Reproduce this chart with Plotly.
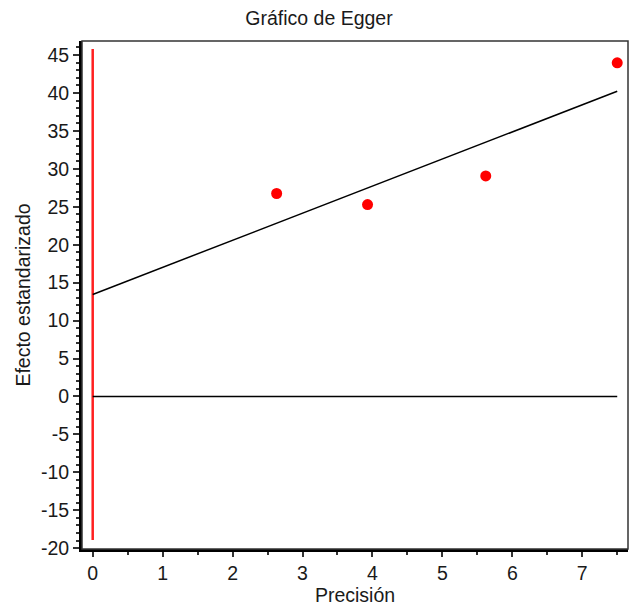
import plotly.graph_objects as go

# Egger regression data: precision (1/SE) vs standardized effect (effect/SE)
precision = [2.63, 3.93, 5.62, 7.50]
std_effect = [26.75, 25.30, 29.07, 43.98]

# Fitted Egger regression line: std_effect = intercept + slope * precision
egger_intercept = 13.45
egger_slope = 3.57

# Reference lines
ref_vertical_y = [-18.9, 45.8]   # red line at precision = 0
ref_zero_x = [0.0, 7.5]          # horizontal line at effect = 0

y_ticks = list(range(-20, 50, 5))
x_ticks = list(range(0, 8))

font_family = "Liberation Sans, Arial, sans-serif"
font_size = 19.5
text_color = "#1a1a1a"

fig = go.Figure()

# red vertical line at x = 0
fig.add_trace(go.Scatter(
    x=[0, 0], y=ref_vertical_y, mode="lines",
    line=dict(color="#ff2020", width=2.5), hoverinfo="skip", showlegend=False))

# zero line
fig.add_trace(go.Scatter(
    x=ref_zero_x, y=[0, 0], mode="lines",
    line=dict(color="black", width=1.5), hoverinfo="skip", showlegend=False))

# regression line
x_line = [0.0, max(precision)]
y_line = [egger_intercept + egger_slope * v for v in x_line]
fig.add_trace(go.Scatter(
    x=x_line, y=y_line, mode="lines",
    line=dict(color="black", width=1.5), hoverinfo="skip", showlegend=False))

# studies
fig.add_trace(go.Scatter(
    x=precision, y=std_effect, mode="markers",
    marker=dict(color="#ff0000", size=11, symbol="circle", line=dict(width=0)),
    showlegend=False))

# thin border on top and right
fig.add_shape(type="rect", xref="paper", yref="paper", x0=0, y0=0, x1=1, y1=1,
              line=dict(color="#333333", width=1.5), layer="above")

axis_font = dict(family=font_family, size=font_size, color=text_color)

fig.update_layout(
    width=638, height=611,
    margin=dict(l=82, r=10, t=41, b=62),
    paper_bgcolor="white", plot_bgcolor="white",
    font=axis_font,
    title=dict(text="Gráfico de Egger", x=0.5, xref="container", xanchor="center",
               y=0.970, yref="container", yanchor="middle", font=axis_font),
    showlegend=False,
)

fig.update_xaxes(
    range=[-0.153, 7.654], tickvals=x_ticks, ticktext=[str(v) for v in x_ticks],
    tickfont=axis_font,
    ticks="outside", ticklen=5, tickwidth=1.5, tickcolor="#333333",
    minor=dict(dtick=0.5, ticks="outside", ticklen=3, tickwidth=1.5, tickcolor="#333333", showgrid=False),
    showline=True, linecolor="black", linewidth=3, showgrid=False, zeroline=False,
    title=dict(text="Precisión", standoff=4, font=axis_font),
)

fig.update_yaxes(
    range=[-20.1, 46.85], tickvals=y_ticks, ticktext=[str(v) for v in y_ticks],
    tickfont=axis_font,
    ticks="outside", ticklen=6, tickwidth=1.5, tickcolor="#333333",
    minor=dict(dtick=1, ticks="outside", ticklen=3, tickwidth=1.5, tickcolor="#333333", showgrid=False),
    showline=True, linecolor="black", linewidth=3, showgrid=False, zeroline=False,
    title=dict(text="Efecto estandarizado", standoff=6, font=axis_font),
)

fig.write_html("out.html")
